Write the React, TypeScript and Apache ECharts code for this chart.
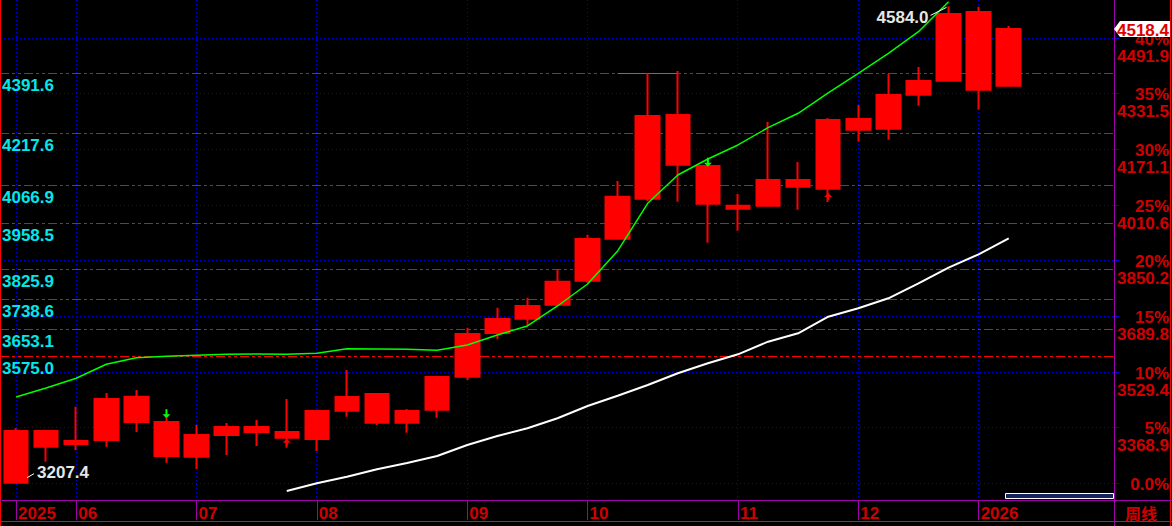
import React, { useEffect, useRef } from 'react';
import * as echarts from 'echarts';

// ---- data ----
const weeks = [
  'W01', 'W02', 'W03', 'W04', 'W05', 'W06', 'W07', 'W08', 'W09', 'W10',
  'W11', 'W12', 'W13', 'W14', 'W15', 'W16', 'W17', 'W18', 'W19', 'W20',
  'W21', 'W22', 'W23', 'W24', 'W25', 'W26', 'W27', 'W28', 'W29', 'W30',
  'W31', 'W32', 'W33', 'W34', 'W35', 'W36', 'W37',
];
const tickIndex = [0, 2, 6, 10, 15, 19, 24, 28, 32];
const tickText = ['2025', '06', '07', '08', '09', '10', '11', '12', '2026'];

const opens = [3210.2, 3359.3, 3321.8, 3333.4, 3458.3, 3385.3, 3285.2, 3347.8, 3370.9, 3356.5, 3336.3, 3417.9, 3466.0, 3383.3, 3420.8, 3515.9, 3642.0, 3683.2, 3723.6, 3792.8, 3913.9, 4029.3, 4270.7, 4123.6, 4009.1, 4009.1, 4083.2, 4058.1, 4259.1, 4231.2, 4329.2, 4369.6, 4567.7, 4355.2];
const closes = [3359.3, 3314.1, 3330.5, 3451.6, 3385.3, 3287.2, 3347.8, 3370.9, 3356.5, 3340.0, 3417.0, 3457.4, 3383.3, 3417.0, 3515.1, 3639.1, 3682.3, 3719.8, 3789.9, 3913.1, 4035.1, 4267.8, 4127.3, 4014.9, 4000.5, 4083.2, 4063.9, 4256.3, 4228.3, 4328.4, 4368.7, 4562.0, 4343.6, 4518.4];
const lows = [3207.4, 3270.8, 3304.5, 3314.1, 3356.5, 3267.9, 3249.7, 3290.1, 3316.1, 3311.2, 3301.7, 3400.6, 3376.6, 3354.4, 3397.7, 3506.4, 3623.8, 3663.0, 3722.0, 3787.0, 3912.2, 4022.7, 4020.6, 3902.4, 3937.0, 4006.2, 3997.6, 4020.0, 4193.7, 4199.4, 4297.5, 4368.0, 4286.0, 4354.0];
const highs = [3367.1, 3360.0, 3429.4, 3468.9, 3477.6, 3398.8, 3376.6, 3382.4, 3391.1, 3451.6, 3418.0, 3535.3, 3467.0, 3422.8, 3518.8, 3657.3, 3714.9, 3743.8, 3825.7, 3925.5, 4080.3, 4390.9, 4397.6, 4124.5, 4042.8, 4250.5, 4135.1, 4262.0, 4299.5, 4388.9, 4409.1, 4584.0, 4583.0, 4527.4];

const greenLine = [3457.4, 3483.3, 3511.3, 3551.7, 3570.7, 3574.8, 3577.7, 3580.5, 3581.4, 3580.5, 3583.4, 3596.7, 3595.8, 3594.9, 3592.1, 3607.4, 3636.2, 3662.2, 3719.8, 3783.3, 3878.5, 4016.0, 4097.6, 4143.8, 4184.2, 4234.1, 4275.6, 4334.1, 4390.9, 4448.6, 4510.9, 4597.5, null, null];
const whiteLine = [null, null, null, null, null, null, null, null, null, 3186.3, 3208.5, 3227.5, 3248.9, 3267.0, 3287.2, 3319.0, 3344.9, 3367.1, 3396.0, 3431.4, 3461.1, 3492.0, 3525.7, 3554.6, 3580.5, 3616.9, 3641.1, 3689.0, 3713.2, 3742.0, 3785.3, 3830.3, 3868.9, 3915.1];

const basePrice = 3208.5;
const pctSteps = [0, 5, 10, 15, 20, 25, 30, 35, 40];
const pctLabels = ['0.0%', '5%', '10%', '15%', '20%', '25%', '30%', '35%', '40%'];
const pctPriceLabels = ['', '3368.9', '3529.4', '3689.8', '3850.2', '4010.6', '4171.1', '4331.5', '4491.9'];
const fibLevels = [4391.6, 4217.6, 4066.9, 3958.5, 3825.9, 3738.6, 3653.1, 3575.0];
const fibLabels = ['4391.6', '4217.6', '4066.9', '3958.5', '3825.9', '3738.6', '3653.1', '3575.0'];
const yMin = 3160.3;
const yMax = 4602.3;
const lastClose = 4518.4;
const highMark = { index: 31, value: 4584.0, text: '4584.0' };
const lowMark = { index: 0, value: 3207.4, text: '3207.4' };
const bandFrom = 20;
const bandTo = 22;
const bandLevel = 4391.6;
const downArrowIdx = [5, 23];
const upArrowIdx = [9, 27];

// ---- styles ----
const FONT = '"Liberation Sans", Arial, sans-serif';
const RED = '#ff0000';
const LABEL_RED = '#d00000';
const CYAN = '#00e8e8';
const BLUE = '#0000e0';
const PURPLE = '#a000a8';
const GRID_RIGHT = 1114;
const GRID_BOTTOM = 500;

function buildOption(): any {
  const candles = opens.map((o, i) => [o, closes[i], lows[i], highs[i]]);
  const tickSet = new Set(tickIndex);

  return {
    animation: false,
    backgroundColor: '#000000',
    grid: { left: 1, right: 1172 - GRID_RIGHT, top: 0, bottom: 526 - GRID_BOTTOM, containLabel: false },
    xAxis: {
      type: 'category',
      data: weeks,
      boundaryGap: true,
      axisLine: { show: false },
      axisTick: {
        show: true,
        alignWithLabel: true,
        length: 20,
        interval: (idx: number) => tickSet.has(idx),
        lineStyle: { color: PURPLE, width: 1 },
      },
      axisLabel: {
        interval: (idx: number) => tickSet.has(idx),
        formatter: (_v: string, idx: number) => {
          const k = tickIndex.indexOf(idx);
          return k >= 0 ? tickText[k] : '';
        },
        color: LABEL_RED,
        fontFamily: FONT,
        fontSize: 17,
        fontWeight: 'bold',
        align: 'left',
        padding: [0, 0, 0, 2],
        margin: 5,
      },
      splitLine: { show: false },
    },
    yAxis: {
      type: 'value',
      min: yMin,
      max: yMax,
      show: false,
      splitLine: { show: false },
    },
    series: [
      {
        type: 'candlestick',
        name: 'K',
        z: 2,
        data: candles,
        barWidth: 24,
        itemStyle: {
          color: RED,
          color0: RED,
          borderColor: RED,
          borderColor0: RED,
          borderColorDoji: RED,
          borderWidth: 2,
        },
      },
      {
        type: 'line',
        name: 'MA-slow',
        z: 3,
        data: whiteLine,
        symbol: 'none',
        lineStyle: { color: '#ffffff', width: 2 },
      },
      {
        type: 'line',
        name: 'MA-fast',
        z: 3,
        data: greenLine,
        symbol: 'none',
        lineStyle: { color: '#00ff00', width: 1.5 },
      },
    ],
  };
}

function txt(text: string, x: number, y: number, fill: string, align: string, va: string, size = 17, bold = true, family = FONT) {
  return {
    type: 'text',
    silent: true,
    z: 50,
    style: {
      text,
      x,
      y,
      fill,
      align,
      verticalAlign: va,
      textAlign: align,
      textVerticalAlign: va,
      fontSize: size,
      fontWeight: bold ? 'bold' : 'normal',
      fontFamily: family,
    },
  };
}

function line(x1: number, y1: number, x2: number, y2: number, stroke: string, w = 1, z = 40, dash?: number[]) {
  const style: any = { stroke, lineWidth: w };
  if (dash) style.lineDash = dash;
  return { type: 'line', silent: true, z, shape: { x1, y1, x2, y2 }, style };
}

const crisp = (v: number) => Math.round(v) + 0.5;

function buildGraphics(X: (i: number) => number, Y: (v: number) => number): any[] {
  const g: any[] = [];
  // grid lines (below the candles)
  pctSteps.forEach((p) => {
    const y = crisp(Y(basePrice * (1 + p / 100)) - 0.5);
    g.push(line(0, y, GRID_RIGHT, y, BLUE, 1, 0, [1, 3]));
  });
  tickIndex.forEach((i) => {
    const x = crisp(X(i) - 0.5);
    g.push(line(x, 0, x, GRID_BOTTOM, BLUE, 1, 0, [1, 3]));
  });
  fibLevels.forEach((v) => {
    const y = crisp(Y(v) - 0.5);
    g.push(line(0, y, GRID_RIGHT, y, RED, 1, 1, [9, 3, 3, 3, 3, 3]));
  });
  const by = crisp(Y(bandLevel) - 0.5);
  g.push(line(X(bandFrom), by, X(bandTo), by, '#e020e0', 1, 1));

  // frame lines
  g.push(line(0.5, 0, 0.5, 526, RED));
  g.push(line(1170.5, 0, 1170.5, 526, RED));
  g.push(line(0, 521.5, 1172, 521.5, RED));
  g.push(line(0, GRID_BOTTOM + 0.5, 1172, GRID_BOTTOM + 0.5, PURPLE));
  g.push(line(GRID_RIGHT + 0.5, 0, GRID_RIGHT + 0.5, 526, PURPLE));
  // scrollbar
  g.push({
    type: 'rect', silent: true, z: 45,
    shape: { x: 1005.5, y: 493.5, width: 108, height: 5 },
    style: { fill: '#14245e', stroke: '#ffffff', lineWidth: 1 },
  });
  g.push(txt('周线', 1125, 513, LABEL_RED, 'left', 'middle', 16, true, '"Noto Sans CJK SC", sans-serif'));

  // right percent / price labels
  pctSteps.forEach((p, k) => {
    const y = Y(basePrice * (1 + p / 100));
    g.push(line(GRID_RIGHT + 1, crisp(y - 0.5), GRID_RIGHT + 5, crisp(y - 0.5), BLUE));
    g.push(txt(pctLabels[k], 1169, y + 1, LABEL_RED, 'right', 'middle'));
    if (pctPriceLabels[k]) g.push(txt(pctPriceLabels[k], 1169, y + 18, LABEL_RED, 'right', 'middle'));
  });

  // left fib labels
  fibLevels.forEach((v, k) => {
    const y = Y(v);
    g.push(txt(fibLabels[k], 2, y + 12, CYAN, 'left', 'middle'));
  });

  // last price tag
  const ty = Y(lastClose);
  g.push({
    type: 'polygon', silent: true, z: 60,
    shape: { points: [[GRID_RIGHT, ty], [GRID_RIGHT + 6, ty - 8], [1170, ty - 8], [1170, ty + 8], [GRID_RIGHT + 6, ty + 8]] },
    style: { fill: '#ffffff' },
  });
  g.push({ ...txt(lastClose.toFixed(1), 1169, ty + 1, '#e00000', 'right', 'middle'), z: 61 });

  // high / low annotations
  const hx = X(highMark.index);
  const hy = Y(highMark.value);
  g.push(txt(highMark.text, hx - 20, hy + 11, '#e6e6e6', 'right', 'middle'));
  g.push(line(hx - 18, hy + 9, hx - 2, hy + 1, '#ffffff', 1));
  const lx = X(lowMark.index);
  const ly = Y(lowMark.value);
  g.push(txt(lowMark.text, lx + 21, ly - 11, '#e6e6e6', 'left', 'middle'));
  g.push(line(lx + 11, ly - 6, lx + 18, ly - 10, '#ffffff', 1));

  // signal arrows
  downArrowIdx.forEach((i) => {
    const x = X(i);
    const tip = Y(highs[i]) + 1;
    g.push({
      type: 'polygon', silent: true, z: 55,
      shape: { points: [[x - 1, tip - 9], [x + 1, tip - 9], [x + 1, tip - 4], [x + 4, tip - 4], [x, tip], [x - 4, tip - 4], [x - 1, tip - 4]] },
      style: { fill: '#00ff00' },
    });
  });
  upArrowIdx.forEach((i) => {
    const x = X(i);
    const base = Y(lows[i]);
    const tip = base - 9;
    g.push({
      type: 'polygon', silent: true, z: 55,
      shape: { points: [[x, tip], [x + 4, tip + 4], [x + 1, tip + 4], [x + 1, base - 2], [x - 1, base - 2], [x - 1, tip + 4], [x - 4, tip + 4]] },
      style: { fill: RED },
    });
  });
  return g;
}

export default function App() {
  const ref = useRef<HTMLDivElement>(null);
  useEffect(() => {
    document.body.style.margin = '0';
    document.body.style.background = '#000';
    const chart = echarts.init(ref.current!, null, { renderer: 'svg' });
    chart.setOption(buildOption());
    const X = (i: number) => chart.convertToPixel({ xAxisIndex: 0 }, i) as unknown as number;
    const Y = (v: number) => chart.convertToPixel({ yAxisIndex: 0 }, v) as unknown as number;
    chart.setOption({ graphic: buildGraphics(X, Y) });
    return () => chart.dispose();
  }, []);
  return <div ref={ref} style={{ width: 1172, height: 526, background: '#000' }} />;
}
